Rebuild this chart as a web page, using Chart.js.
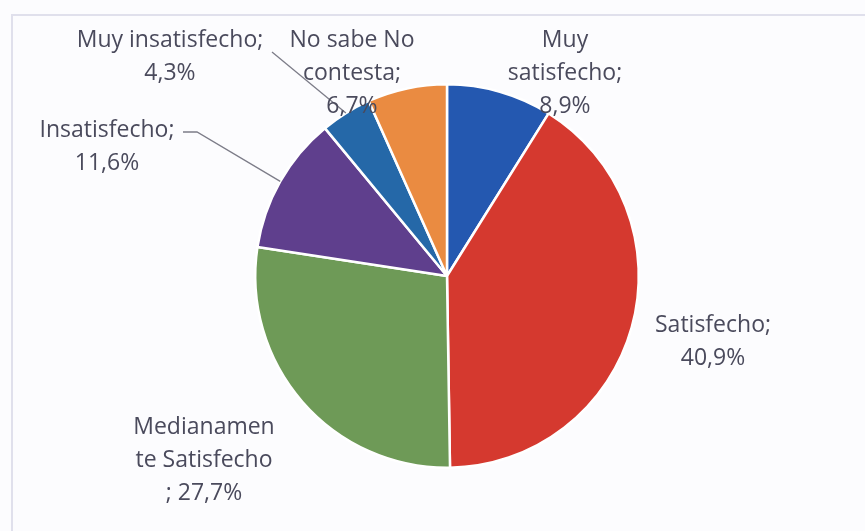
<!DOCTYPE html>
<html>
<head>
<meta charset="utf-8">
<script src="https://cdn.jsdelivr.net/npm/chart.js@4.4.1/dist/chart.umd.min.js"></script>
<style>
    html, body { margin: 0; padding: 0; background: #fcfcfe; overflow: hidden; }
    #wrap { position: relative; width: 865px; height: 531px; }
    #frame { position: absolute; left: 11px; top: 14px; width: 900px; height: 600px; border: 2px solid #e0e0ec; box-sizing: border-box; }
    canvas { position: absolute; left: 0; top: 0; }
</style>
</head>
<body>
<div id="wrap">
    <div id="frame"></div>
    <canvas id="chart" width="865" height="531"></canvas>
</div>
<script>
// Data (clockwise from 12 o'clock)
const categories = ['Muy satisfecho', 'Satisfecho', 'Medianamente Satisfecho', 'Insatisfecho', 'Muy insatisfecho', 'No sabe No contesta'];
const percentages = [8.9, 40.9, 27.7, 11.6, 4.3, 6.7];
const sliceColors = ['#2458b0', '#d5392f', '#6e9a57', '#5f3f8d', '#2568a8', '#ea8b41'];

// How each category name wraps in the data labels
const labelWraps = [
    ['Muy', 'satisfecho;'],
    ['Satisfecho;'],
    ['Medianamen', 'te Satisfecho'],
    ['Insatisfecho;'],
    ['Muy insatisfecho;'],
    ['No sabe No', 'contesta;']
];
const valuePrefix = ['', '', '; ', '', '', ''];

// Label placement relative to the pie centre (x of text centre, y of first line)
const labelLayout = [
    { dx: 118, dy: -236 },
    { dx: 266, dy: 49 },
    { dx: -243, dy: 151 },
    { dx: -340, dy: -146, leader: [[-264, -144], [-250, -144]] },
    { dx: -277, dy: -236, leader: [[-175, -224]] },
    { dx: -95, dy: -236 }
];

const formatPct = v => v.toFixed(1).replace('.', ',') + '%';

/**
 * Draw the data labels and leader lines
 */
const pieLabels = {
    id: 'pieLabels',
    afterDatasetsDraw(chart) {
        const ctx = chart.ctx;
        const arcs = chart.getDatasetMeta(0).data;
        ctx.save();
        ctx.font = '23px "Open Sans", sans-serif';
        ctx.fillStyle = '#4a4a5c';
        ctx.textAlign = 'center';
        ctx.textBaseline = 'middle';
        arcs.forEach((arc, i) => {
            const cx = arc.x, cy = arc.y;
            const layout = labelLayout[i];
            const lines = labelWraps[i].concat([valuePrefix[i] + formatPct(percentages[i])]);
            lines.forEach((line, j) => {
                ctx.fillText(line, cx + layout.dx, cy + layout.dy + j * 33);
            });
            if (layout.leader) {
                const mid = (arc.startAngle + arc.endAngle) / 2;
                ctx.beginPath();
                ctx.strokeStyle = '#7c7c88';
                ctx.lineWidth = 1.3;
                layout.leader.forEach((p, k) => {
                    if (k === 0) ctx.moveTo(cx + p[0], cy + p[1]);
                    else ctx.lineTo(cx + p[0], cy + p[1]);
                });
                ctx.lineTo(cx + Math.cos(mid) * arc.outerRadius, cy + Math.sin(mid) * arc.outerRadius);
                ctx.stroke();
            }
        });
        ctx.restore();
    }
};

new Chart(document.getElementById('chart'), {
    type: 'pie',
    data: {
        labels: categories,
        datasets: [{
            data: percentages,
            backgroundColor: sliceColors,
            borderColor: '#ffffff',
            borderWidth: 2.5
        }]
    },
    options: {
        responsive: false,
        animation: false,
        layout: {
            padding: { top: 83, bottom: 62, left: 254, right: 225 }
        },
        plugins: {
            legend: { display: false },
            tooltip: { enabled: false }
        }
    },
    plugins: [pieLabels]
});
</script>
</body>
</html>
